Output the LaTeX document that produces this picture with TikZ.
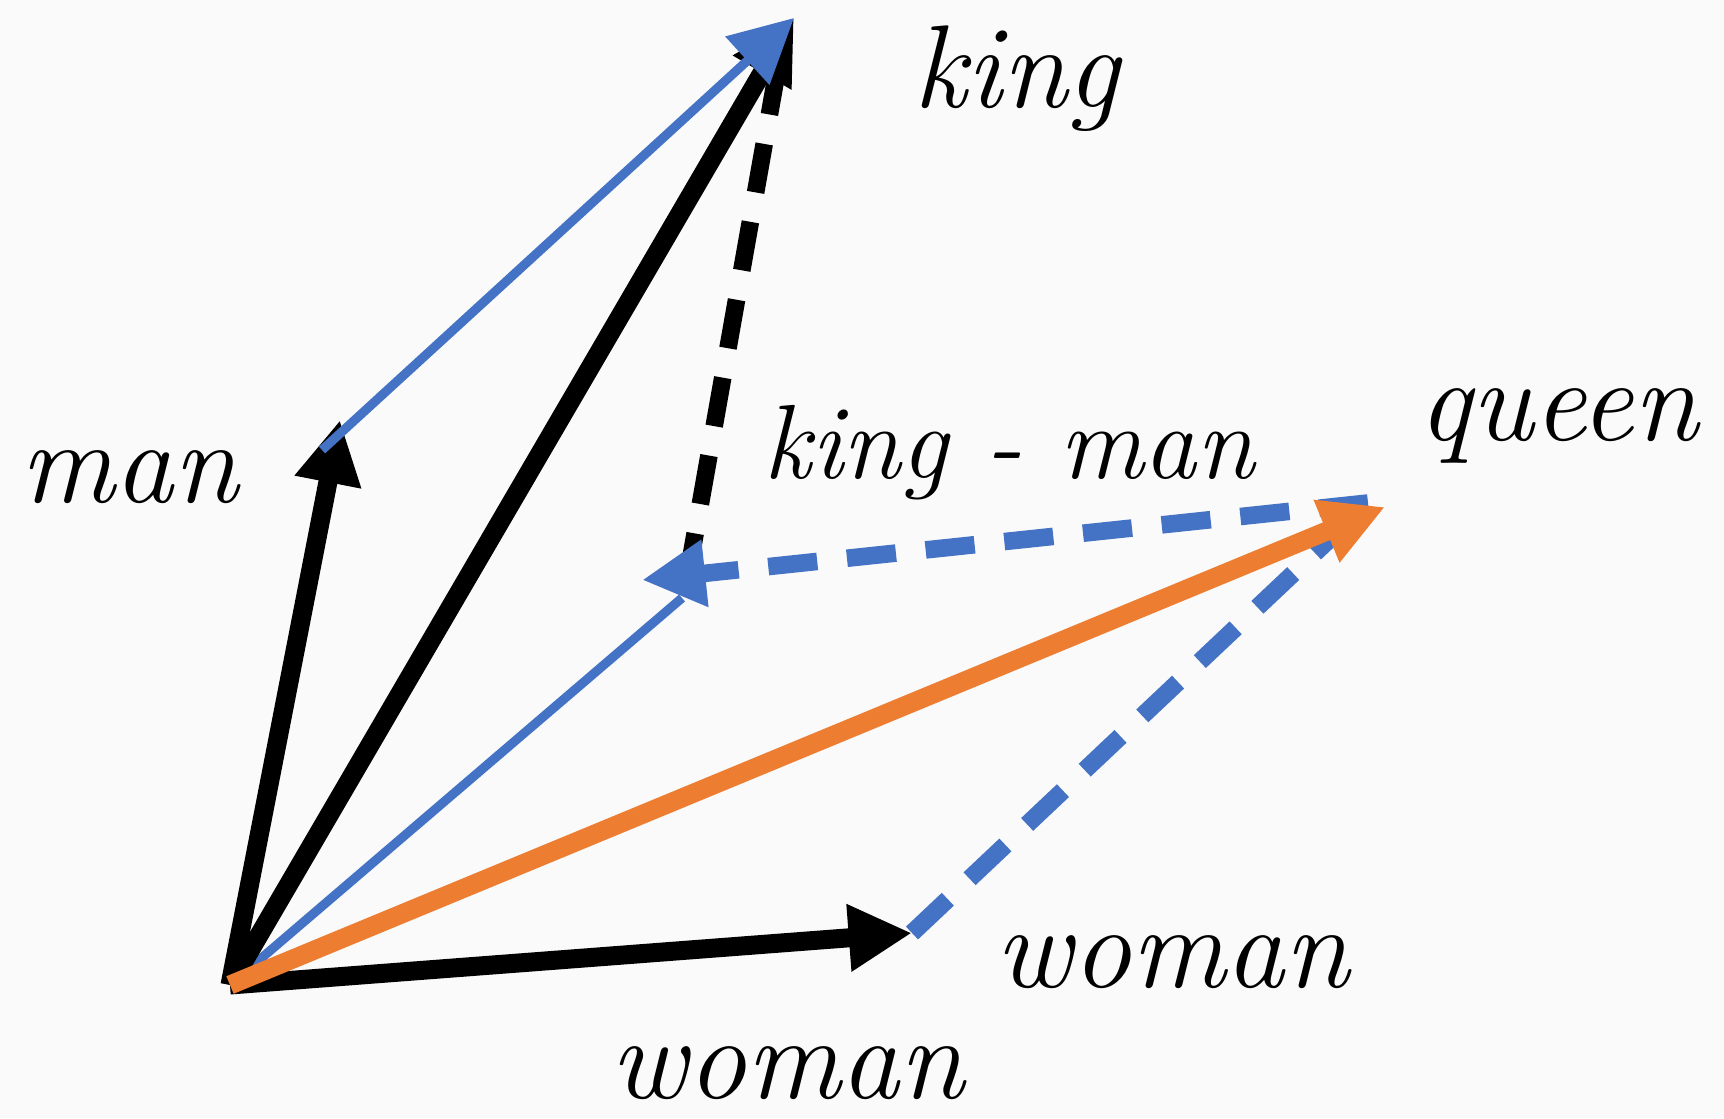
\documentclass[tikz,border=0pt]{standalone}
\usetikzlibrary{arrows.meta}
\definecolor{vecblue}{RGB}{68,114,196}
\definecolor{vecorange}{RGB}{237,125,49}
\begin{document}
\begin{tikzpicture}[x=0.01cm, y=-0.01cm,
    tip/.style={-{Triangle[length=18pt,width=18pt]}},
    vec/.style={tip, line width=5.4pt},
    thinvec/.style={line width=2.6pt, vecblue},
    dashvec/.style={line width=5pt, dash pattern=on 14pt off 8.5pt},
    word/.style={font=\fontsize{33.5}{40}\selectfont\itshape, inner sep=0pt, anchor=base west}]
    \fill[black!2] (0,0) rectangle (1724,1118);
    \useasboundingbox (0,0) rectangle (1724,1118);
    \coordinate (O) at (230,985);
    \coordinate (king) at (794,18);
    \coordinate (man) at (340,420);
    \coordinate (woman) at (912,933);
    \coordinate (queen) at (1385,507);
    \coordinate (km) at (642,580);
    \coordinate (kingb) at (778,66);
    \coordinate (kmb) at (686,585);
    \coordinate (kmthin) at (682,598);
    \coordinate (manb) at (322,450);
    \coordinate (qb) at (1368,503);
    % dashed differences
    \draw[dashvec] (kingb) -- (kmb);
    \draw[dashvec, vecblue] (woman) -- (qb);
    \draw[thinvec] (O) -- (kmthin);
    % word vectors
    \draw[vec] (O) -- (man);
    \draw[vec] (O) -- (king);
    \draw[vec] (O) -- (woman);
    \draw[thinvec, tip] (manb) -- (king);
    \draw[dashvec, vecblue, tip] (qb) -- (km);
    \draw[vec, vecorange] (O) -- (queen);
    % labels
    \node[word] (lking) at (913,107) {king};
    \node[word] (lman) at (20,502) {man};
    \node[word, font=\fontsize{30}{36}\selectfont\itshape] (lkm) at (763,478) {king - man};
    \node[word] (lqueen) at (1418,440) {queen};
    \node[word] (lwoman) at (995,987) {woman};
    \node[word] (lwomanb) at (610,1098) {woman};
\end{tikzpicture}
\end{document}
